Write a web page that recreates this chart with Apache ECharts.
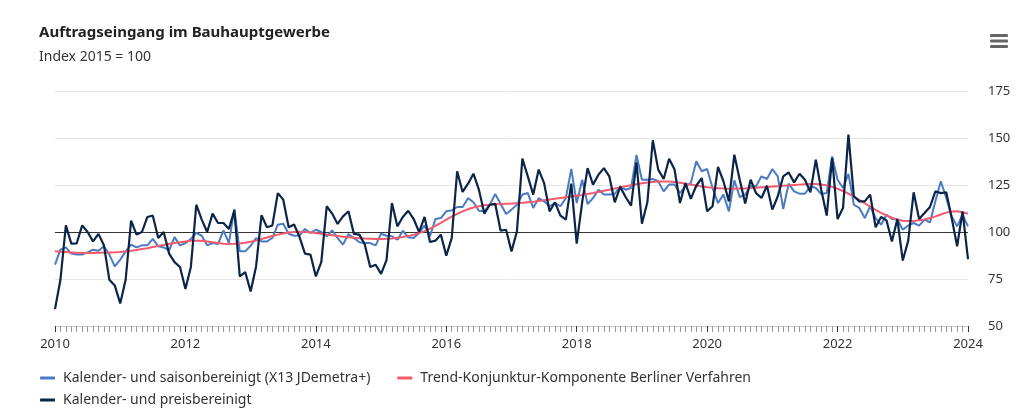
<!DOCTYPE html>
<html>
<head>
<meta charset="utf-8">
<script src="https://cdn.jsdelivr.net/npm/echarts@6/dist/echarts.min.js"></script>
<style>
html,body{margin:0;padding:0;background:#fff;}
#chart{width:1034px;height:415px;}
</style>
</head>
<body>
<div id="chart"></div>
<script>
// Monthly data Jan 2010 .. Jan 2024
const startYear = 2010;
const yearTicks = [2010, 2012, 2014, 2016, 2018, 2020, 2022, 2024];
const seriesNames = [
  'Kalender- und saisonbereinigt (X13 JDemetra+)',
  'Trend-Konjunktur-Komponente Berliner Verfahren',
  'Kalender- und preisbereinigt'
];
const saisonbereinigt = [
  82.6, 90.6, 91.8, 88.5, 88, 88, 89.2, 90.6, 90, 92.4, 88, 81.7,
  85.3, 89.7, 93.3, 91.8, 92.9, 92.9, 96.3, 92.4, 91.8, 90.2, 97.3, 92.9,
  94.1, 96.3, 99.5, 98, 92.9, 94.1, 93.6, 100.9, 94.1, 112.2, 89.7, 89.7,
  92.7, 96.8, 95, 95, 96.8, 103.9, 104.4, 99.1, 98, 98.2, 101.6, 99.5,
  101.2, 100, 97.7, 100.9, 96.8, 93.3, 98.9, 96.8, 94.5, 94.1, 94.1, 92.9,
  99.1, 98, 97.7, 95.9, 100.7, 97.2, 96.8, 99.5, 103.5, 97.7, 106.9, 107.4,
  111, 111.5, 113.3, 113.3, 118, 115.8, 111.3, 111, 114.5, 120.2, 115, 109.6,
  111.9, 114.5, 119.9, 120.7, 112.8, 118, 116.3, 113.7, 115.4, 113.7, 118, 133.5,
  115.4, 127.8, 114.9, 118, 122.5, 119.9, 119.9, 120.2, 124.3, 122.5, 123.4, 141,
  127.8, 127.8, 128.2, 127, 121.6, 125.2, 125.2, 120.7, 124.3, 126, 137.6, 132.3,
  133.5, 123.4, 115.4, 119.9, 111, 127.5, 118.6, 119.9, 124.3, 124.3, 129.6, 128.2,
  133.5, 129.6, 112.2, 125.7, 121.6, 120.4, 120.4, 124.3, 123.4, 120.2, 120.7, 140.2,
  127.8, 123.4, 130.9, 114.5, 112.8, 107.4, 113.7, 107.4, 103.9, 109.2, 106.9, 106.6,
  101.2, 103.5, 104.8, 103.4, 106.6, 105.1, 116.3, 127, 118.1, 108.3, 103, 109.2,
  103
];
const trend = [
  89.7, 89.5, 89.3, 89.1, 88.9, 88.8, 88.8, 88.8, 88.9, 89.0, 89.1, 89.2,
  89.4, 89.7, 90.0, 90.4, 90.9, 91.4, 92.0, 92.6, 93.1, 93.6, 94.1, 94.6,
  95.0, 95.3, 95.4, 95.3, 95.0, 94.5, 94.1, 93.8, 93.6, 93.7, 93.9, 94.3,
  94.8, 95.5, 96.3, 97.1, 97.9, 98.6, 99.2, 99.7, 100.0, 100.1, 100.0, 99.8,
  99.5, 99.1, 98.7, 98.3, 97.9, 97.5, 97.2, 96.9, 96.7, 96.5, 96.4, 96.3,
  96.3, 96.4, 96.6, 96.9, 97.3, 97.8, 98.5, 99.4, 100.5, 101.8, 103.3, 104.9,
  106.6, 108.2, 109.7, 111.0, 112.1, 113.0, 113.7, 114.2, 114.5, 114.7, 114.9, 115.0,
  115.1, 115.3, 115.5, 115.8, 116.1, 116.5, 116.9, 117.3, 117.7, 118.1, 118.5, 118.9,
  119.3, 119.7, 120.2, 120.7, 121.3, 121.9, 122.5, 123.1, 123.7, 124.3, 124.9, 125.4,
  125.9, 126.3, 126.6, 126.8, 126.9, 126.8, 126.6, 126.2, 125.7, 125.2, 124.7, 124.2,
  123.8, 123.5, 123.3, 123.1, 123.0, 123.0, 123.1, 123.2, 123.4, 123.6, 123.8, 124.0,
  124.2, 124.4, 124.6, 124.8, 125.0, 125.2, 125.4, 125.5, 125.5, 125.3, 124.8, 124.0,
  123.0, 121.8, 120.4, 118.8, 117.1, 115.3, 113.5, 111.8, 110.2, 108.8, 107.6, 106.6,
  106.0, 105.8, 105.9, 106.2, 106.7, 107.4, 108.3, 109.3, 110.3, 110.9, 111.0, 110.4,
  109.8
];
const preisbereinigt = [
  59, 74.6, 103.5, 93.8, 94, 103.5, 100, 95, 99, 93, 74.6, 71.6,
  62, 74.6, 106, 98.6, 100, 108, 108.7, 96.8, 100, 88.5, 84, 81.4,
  69.7, 81.4, 114.5, 106.6, 100, 109.8, 104.8, 104.8, 101.6, 111.5, 76.4, 78.7,
  68.4, 81.7, 109, 102.5, 103.5, 120.7, 117.2, 102.5, 104, 97.3, 88.5, 88,
  76.4, 84, 113.7, 109.8, 104.3, 108.3, 111, 99, 98.6, 93.3, 81.4, 82.6,
  77.7, 85, 115.4, 103, 108, 111.3, 106.9, 100, 108, 94.7, 95.4, 98.6,
  87.4, 96.8, 132.3, 121.3, 125.7, 131, 122.5, 109.8, 114.5, 115, 100.7, 101.2,
  89.7, 100.4, 139, 129.6, 119.9, 133.2, 126, 111, 115.8, 108.7, 106.6, 125.7,
  93.8, 115.8, 134, 125.2, 130.5, 134, 129.6, 115.8, 124, 118.6, 114, 137,
  104.4, 115.8, 148.8, 133.2, 128.2, 139, 133.2, 115.4, 126, 117.6, 124.6, 128.7,
  111, 113.7, 134.6, 127, 116.3, 141.1, 127.8, 115.1, 127.8, 120.7, 118.1, 124.6,
  111.9, 119, 129.6, 131.7, 126.4, 131, 127.8, 121.1, 138.5, 122.5, 108.7, 139.4,
  106.9, 112.8, 151.8, 119, 116.3, 116.3, 119.9, 102.5, 108, 106.2, 95, 106.9,
  84.8, 95.4, 121.1, 106.9, 110.1, 113.3, 121.6, 120.7, 121.1, 107.4, 92.4, 111,
  85.6
];
const colors = ['#4a7bc3', '#f25a6e', '#0b2447'];

function toPoints(arr) {
  return arr.map((v, i) => [startYear + i / 12, v]);
}

const chart = echarts.init(document.getElementById('chart'), null, {renderer: 'canvas'});
const font = '"Noto Sans", "Open Sans", sans-serif';

const legendText = {fontFamily: font, fontSize: 14, color: '#333', padding: [0, 0, 0, 3]};

const option = {
  animation: false,
  backgroundColor: '#ffffff',
  textStyle: {fontFamily: font},
  title: {
    text: 'Auftragseingang im Bauhauptgewerbe',
    subtext: 'Index 2015 = 100',
    left: 39,
    top: 25,
    padding: 0,
    itemGap: 10,
    textStyle: {fontFamily: font, fontSize: 15, fontWeight: 'bold', color: '#222'},
    subtextStyle: {fontFamily: font, fontSize: 14, color: '#333'}
  },
  graphic: [
    {type: 'rect', left: 990, top: 34, shape: {width: 18, height: 3, r: 1}, style: {fill: '#666'}},
    {type: 'rect', left: 990, top: 39.5, shape: {width: 18, height: 3, r: 1}, style: {fill: '#666'}},
    {type: 'rect', left: 990, top: 45, shape: {width: 18, height: 3, r: 1}, style: {fill: '#666'}}
  ],
  legend: [
    {
      data: [seriesNames[0], seriesNames[1]],
      left: 40, top: 371, padding: 0,
      itemWidth: 15, itemHeight: 3, itemGap: 27,
      icon: 'roundRect',
      textStyle: legendText
    },
    {
      data: [seriesNames[2]],
      left: 40, top: 393, padding: 0,
      itemWidth: 15, itemHeight: 3,
      icon: 'roundRect',
      textStyle: legendText
    }
  ],
  grid: {left: 55, right: 66, top: 91, bottom: 89, containLabel: false},
  xAxis: {
    type: 'value',
    min: 2010, max: 2024, interval: 2,
    axisLine: {show: true, lineStyle: {color: '#ccc'}},
    axisTick: {show: true, length: 6, lineStyle: {color: '#333'}},
    minorTick: {show: true, splitNumber: 24, length: 6, lineStyle: {color: '#999'}},
    splitLine: {show: false},
    axisLabel: {
      margin: 12, fontSize: 13, color: '#333', fontFamily: font,
      formatter: v => yearTicks.includes(v) ? String(v) : ''
    }
  },
  yAxis: {
    type: 'value',
    position: 'right',
    min: 50, max: 175, interval: 25,
    axisLine: {show: false},
    axisTick: {show: false},
    splitLine: {show: true, lineStyle: {color: '#e6e6e6', width: 1}},
    axisLabel: {margin: 20, align: 'left', fontSize: 13, color: '#333', fontFamily: font}
  },
  series: [
    {
      name: seriesNames[0], type: 'line', data: toPoints(saisonbereinigt),
      showSymbol: false, symbol: 'none', color: colors[0],
      lineStyle: {width: 2, color: colors[0]}, z: 2,
      markLine: {
        silent: true, symbol: 'none', label: {show: false},
        lineStyle: {color: '#333', width: 1, type: 'solid'},
        data: [{yAxis: 100}], z: 1
      }
    },
    {
      name: seriesNames[1], type: 'line', data: toPoints(trend),
      showSymbol: false, symbol: 'none', color: colors[1],
      lineStyle: {width: 2, color: colors[1]}, z: 3
    },
    {
      name: seriesNames[2], type: 'line', data: toPoints(preisbereinigt),
      showSymbol: false, symbol: 'none', color: colors[2],
      lineStyle: {width: 2.2, color: colors[2]}, z: 4
    }
  ]
};
chart.setOption(option);
</script>
</body>
</html>
